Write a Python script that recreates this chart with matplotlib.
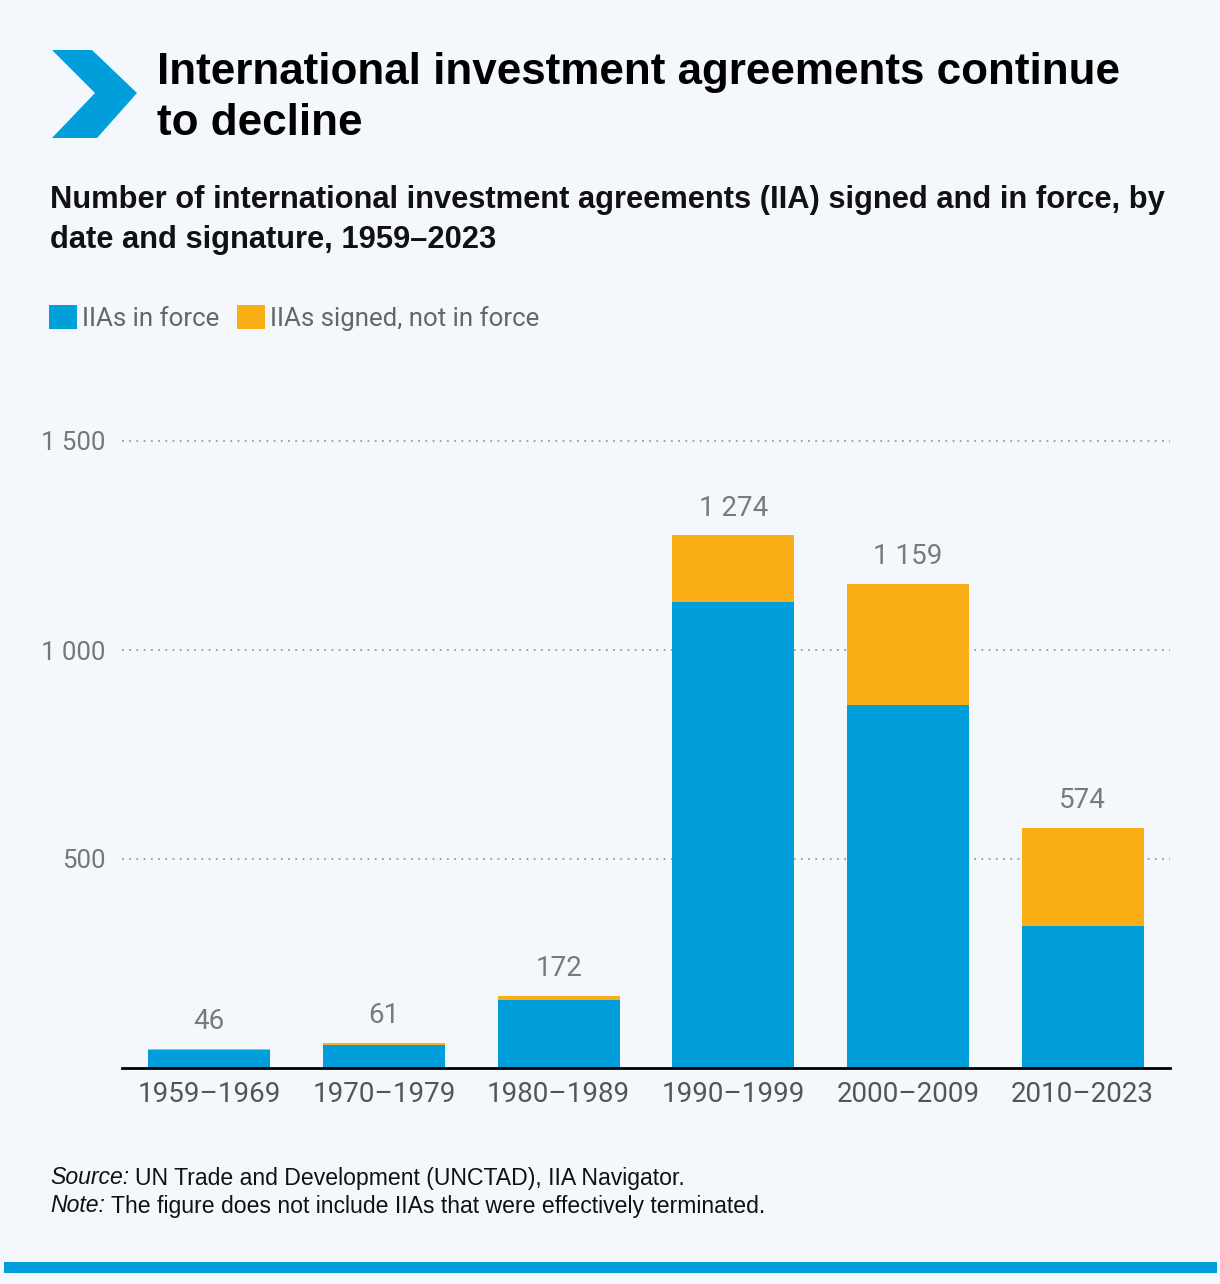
import numpy as np
import matplotlib.pyplot as plt
from matplotlib.patches import Polygon, Rectangle

# data
periods = ['1959–1969', '1970–1979', '1980–1989', '1990–1999', '2000–2009', '2010–2023']
in_force = [44, 56, 162, 1115, 868, 340]
signed_not_in_force = [2, 5, 10, 159, 291, 234]
totals = [46, 61, 172, 1274, 1159, 574]
yticks = [500, 1000, 1500]
ytick_labels = ['500', '1 000', '1 500']

BLUE = '#009EDB'
ORANGE = '#FBAF17'
BG = '#F4F8FC'
GREY = '#666666'
SANS = ['Liberation Sans', 'DejaVu Sans']

plt.rcParams['font.family'] = ['Roboto', 'DejaVu Sans']

W, H = 1220, 1284
fig = plt.figure(figsize=(W/100, H/100), dpi=100, facecolor=BG)

def fx(px):
    return px / W
def fy(py):
    return 1 - py / H

# chevron logo
chev = Polygon([(fx(52), fy(50)), (fx(92), fy(50)), (fx(137), fy(93)),
                (fx(97), fy(138)), (fx(52), fy(138)), (fx(95), fy(93))],
               closed=True, transform=fig.transFigure, color=BLUE, lw=0)
fig.patches.append(chev)

# title
fig.text(fx(157), fy(98), 'International investment agreements continue\nto decline',
         fontsize=31.7, fontweight='bold', family=SANS,
         va='center', ha='left', linespacing=1.3, color='black')

# subtitle
fig.text(fx(50), fy(220), 'Number of international investment agreements (IIA) signed and in force, by\ndate and signature, 1959–2023',
         fontsize=22.2, fontweight='bold', family=SANS,
         va='center', ha='left', linespacing=1.42, color='#111111')

# axes
ax = fig.add_axes([fx(122), fy(1068), fx(1170) - fx(122), (1068 - 441) / H])
ax.set_facecolor(BG)
x = np.arange(len(periods))
b1 = ax.bar(x, in_force, width=0.70, color=BLUE, label='IIAs in force', zorder=3)
b2 = ax.bar(x, signed_not_in_force, bottom=in_force, width=0.70, color=ORANGE,
            label='IIAs signed, not in force', zorder=3)

for xi, t in zip(x, totals):
    lab = f'{t:,}'.replace(',', ' ')
    ax.text(xi, t + 33, lab, ha='center', va='bottom', fontsize=20,
            color='#7A7A7A')

ax.set_xlim(-0.5, 5.5)
ax.set_ylim(0, 1500)
ax.set_yticks(yticks)
ax.set_yticklabels(ytick_labels)
ax.set_xticks(x)
ax.set_xticklabels(periods)
ax.tick_params(axis='y', length=0, pad=12, labelsize=18.5, labelcolor='#777777')
ax.tick_params(axis='x', length=0, pad=9, labelsize=20, labelcolor='#555555')
for s in ['top', 'right', 'left']:
    ax.spines[s].set_visible(False)
ax.spines['bottom'].set_color('black')
ax.spines['bottom'].set_linewidth(2)
ax.spines['bottom'].set_zorder(4)
for yv in yticks:
    ax.axhline(yv, color='#9A9A9A', lw=1.3, ls=(0, (1, 3)), zorder=1, clip_on=False)

# legend
leg = fig.legend(handles=[b1, b2], loc='upper left', bbox_to_anchor=(fx(49), fy(305)),
                 ncol=2, frameon=False, fontsize=18.6, handlelength=1.08, handleheight=1.08,
                 handletextpad=0.2, columnspacing=0.7, borderpad=0, borderaxespad=0)
for t in leg.get_texts():
    t.set_color(GREY)

# source / note
renderer = fig.canvas.get_renderer()
for ypx, lead, rest in [(1178, 'Source:', 'UN Trade and Development (UNCTAD), IIA Navigator.'),
                        (1206, 'Note:', 'The figure does not include IIAs that were effectively terminated.')]:
    t1 = fig.text(fx(50), fy(ypx), lead, fontsize=16.6, va='center', ha='left',
                  style='italic', color='#111111', family=SANS)
    bb = t1.get_window_extent(renderer)
    fig.text(bb.x1 / W + fx(6), fy(ypx), rest, fontsize=16.6, va='center', ha='left',
             color='#111111', family=SANS)

# bottom bar
fig.patches.append(Rectangle((fx(4), fy(1273)), fx(1217) - fx(4), 11 / H,
                             transform=fig.transFigure, color=BLUE, lw=0))

fig.savefig('out.png', dpi=100, facecolor=BG)
